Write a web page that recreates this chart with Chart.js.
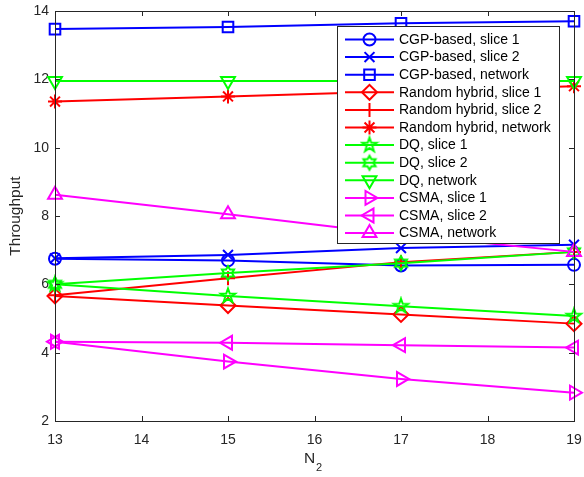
<!DOCTYPE html>
<html>
<head>
<meta charset="utf-8">
<script src="https://cdn.jsdelivr.net/npm/chart.js"></script>
<style>
  html, body { margin: 0; padding: 0; background: #fff; }
  #wrap { width: 584px; height: 477px; }
</style>
</head>
<body>
<div id="wrap"><canvas id="chart" width="584" height="477"></canvas></div>
<script>
// number of users N2 on the x axis
const users = [13, 15, 17, 19];

const cgpSlice1 = [6.75, 6.70, 6.55, 6.57];
const cgpSlice2 = [6.76, 6.86, 7.06, 7.16];
const cgpNetwork = [13.47, 13.53, 13.64, 13.70];
const randSlice1 = [5.66, 5.38, 5.12, 4.85];
const randSlice2 = [5.68, 6.18, 6.65, 6.95];
const randNetwork = [11.35, 11.50, 11.65, 11.80];
const dqSlice1 = [6.00, 5.66, 5.36, 5.07];
const dqSlice2 = [6.00, 6.33, 6.62, 6.95];
const dqNetwork = [11.95, 11.95, 11.95, 11.95];
const csmaSlice1 = [4.32, 3.74, 3.23, 2.83];
const csmaSlice2 = [4.32, 4.29, 4.22, 4.15];
const csmaNetwork = [8.62, 8.05, 7.45, 6.95];

const FONT = '"Liberation Sans", Arial, Helvetica, sans-serif';
const AXIS_COLOR = '#262626';

// star-shaped markers that Chart.js doesn't ship with
function starMarker(color, points, outer, inner) {
  const c = document.createElement('canvas');
  c.width = 20; c.height = 20;
  const ctx = c.getContext('2d');
  ctx.strokeStyle = color;
  ctx.lineWidth = 2;
  ctx.lineJoin = 'miter';
  ctx.beginPath();
  for (let i = 0; i < points * 2; i++) {
    const r = i % 2 === 0 ? outer : inner;
    const a = -Math.PI / 2 + i * Math.PI / points;
    const px = 10 + r * Math.cos(a), py = 10 + r * Math.sin(a);
    if (i === 0) ctx.moveTo(px, py); else ctx.lineTo(px, py);
  }
  ctx.closePath();
  ctx.stroke();
  return c;
}

const BLUE = '#0000ff', RED = '#ff0000', GREEN = '#00ff00', MAGENTA = '#ff00ff';
const pentagram = starMarker(GREEN, 5, 7.5, 3);
const hexagram = starMarker(GREEN, 6, 7, 4);

const series = [
  { label: 'CGP-based, slice 1', data: cgpSlice1, color: BLUE, style: 'circle', r: 6, rot: 0 },
  { label: 'CGP-based, slice 2', data: cgpSlice2, color: BLUE, style: 'crossRot', r: 7, rot: 0 },
  { label: 'CGP-based, network', data: cgpNetwork, color: BLUE, style: 'rect', r: 7.5, rot: 0 },
  { label: 'Random hybrid, slice 1', data: randSlice1, color: RED, style: 'rectRot', r: 7.5, rot: 0 },
  { label: 'Random hybrid, slice 2', data: randSlice2, color: RED, style: 'cross', r: 7, rot: 0 },
  { label: 'Random hybrid, network', data: randNetwork, color: RED, style: 'star', r: 7, rot: 0 },
  { label: 'DQ, slice 1', data: dqSlice1, color: GREEN, style: pentagram, r: 8, rot: 0 },
  { label: 'DQ, slice 2', data: dqSlice2, color: GREEN, style: hexagram, r: 8, rot: 0 },
  { label: 'DQ, network', data: dqNetwork, color: GREEN, style: 'triangle', r: 8, rot: 180 },
  { label: 'CSMA, slice 1', data: csmaSlice1, color: MAGENTA, style: 'triangle', r: 8, rot: 90 },
  { label: 'CSMA, slice 2', data: csmaSlice2, color: MAGENTA, style: 'triangle', r: 8, rot: -90 },
  { label: 'CSMA, network', data: csmaNetwork, color: MAGENTA, style: 'triangle', r: 8, rot: 0 }
];

// box around the plot area with inward ticks on all four sides
const framePlugin = {
  id: 'frame',
  afterDatasetsDraw(chart) {
    const { ctx, chartArea: a, scales } = chart;
    ctx.save();
    ctx.strokeStyle = AXIS_COLOR;
    ctx.lineWidth = 1;
    ctx.strokeRect(Math.round(a.left) + 0.5, Math.round(a.top) + 0.5,
      Math.round(a.right - a.left), Math.round(a.bottom - a.top));
    const tl = 5;
    ctx.beginPath();
    scales.x.ticks.forEach(t => {
      const x = Math.round(scales.x.getPixelForValue(t.value)) + 0.5;
      ctx.moveTo(x, a.bottom); ctx.lineTo(x, a.bottom - tl);
      ctx.moveTo(x, a.top); ctx.lineTo(x, a.top + tl);
    });
    scales.y.ticks.forEach(t => {
      const y = Math.round(scales.y.getPixelForValue(t.value)) + 0.5;
      ctx.moveTo(a.left, y); ctx.lineTo(a.left + tl, y);
      ctx.moveTo(a.right, y); ctx.lineTo(a.right - tl, y);
    });
    ctx.stroke();
    ctx.restore();
  },
  afterDraw(chart) {
    const { ctx, chartArea: a } = chart;
    ctx.save();
    ctx.fillStyle = AXIS_COLOR;

    // y axis title
    ctx.font = '15.5px ' + FONT;
    ctx.textAlign = 'center';
    ctx.textBaseline = 'middle';
    ctx.translate(16, (a.top + a.bottom) / 2);
    ctx.rotate(-Math.PI / 2);
    ctx.fillText('Throughput', 0, 0);
    ctx.setTransform(1, 0, 0, 1, 0, 0);

    // x axis title: N with subscript 2
    ctx.textAlign = 'left';
    ctx.textBaseline = 'alphabetic';
    ctx.font = '15.5px ' + FONT;
    ctx.fillText('N', 304, 463);
    ctx.font = '11px ' + FONT;
    ctx.fillText('2', 316, 471);

    // legend
    const lx = 337, ly = 26, lw = 222, lh = 217;
    ctx.fillStyle = '#ffffff';
    ctx.fillRect(lx, ly, lw, lh);
    ctx.strokeStyle = AXIS_COLOR;
    ctx.lineWidth = 1;
    ctx.strokeRect(lx + 0.5, ly + 0.5, lw, lh);
    ctx.font = '14px ' + FONT;
    ctx.textBaseline = 'middle';
    series.forEach((s, i) => {
      const y = 39.5 + i * 17.6;
      ctx.strokeStyle = s.color;
      ctx.lineWidth = 2;
      ctx.beginPath();
      ctx.moveTo(345, y); ctx.lineTo(394, y);
      ctx.stroke();
      ctx.fillStyle = 'rgba(0,0,0,0)';
      Chart.helpers.drawPoint(ctx, {
        pointStyle: s.style, radius: s.r, rotation: s.rot, borderWidth: 2
      }, 369.5, y);
      ctx.fillStyle = '#000000';
      ctx.fillText(s.label, 399, y + 0.5);
    });
    ctx.restore();
  }
};

const datasets = series.map((s, i) => ({
  label: s.label,
  data: users.map((u, k) => ({ x: u, y: s.data[k] })),
  borderColor: s.color,
  backgroundColor: 'rgba(0,0,0,0)',
  borderWidth: 2,
  pointStyle: s.style,
  pointRadius: s.r,
  pointRotation: s.rot,
  pointBorderColor: s.color,
  pointBackgroundColor: 'rgba(0,0,0,0)',
  pointBorderWidth: 2,
  tension: 0,
  clip: false,
  order: series.length - i
}));

new Chart(document.getElementById('chart'), {
  type: 'line',
  data: { datasets },
  options: {
    responsive: false,
    animation: false,
    events: [],
    layout: { padding: { top: 11, right: 9, left: 0, bottom: 0 } },
    plugins: { legend: { display: false }, tooltip: { enabled: false } },
    scales: {
      x: {
        type: 'linear', min: 13, max: 19,
        ticks: { stepSize: 1, color: AXIS_COLOR, font: { family: FONT, size: 14 }, padding: 11, maxRotation: 0 },
        grid: { display: false, drawTicks: false },
        border: { display: false },
        afterFit: s => { s.height = 56; s.paddingLeft = 0; s.paddingRight = 0; }
      },
      y: {
        min: 2, max: 14,
        ticks: { stepSize: 2, color: AXIS_COLOR, font: { family: FONT, size: 14 }, padding: 6 },
        grid: { display: false, drawTicks: false },
        border: { display: false },
        afterFit: s => { s.width = 55; s.paddingTop = 0; s.paddingBottom = 0; }
      }
    }
  },
  plugins: [framePlugin]
});
</script>
</body>
</html>
